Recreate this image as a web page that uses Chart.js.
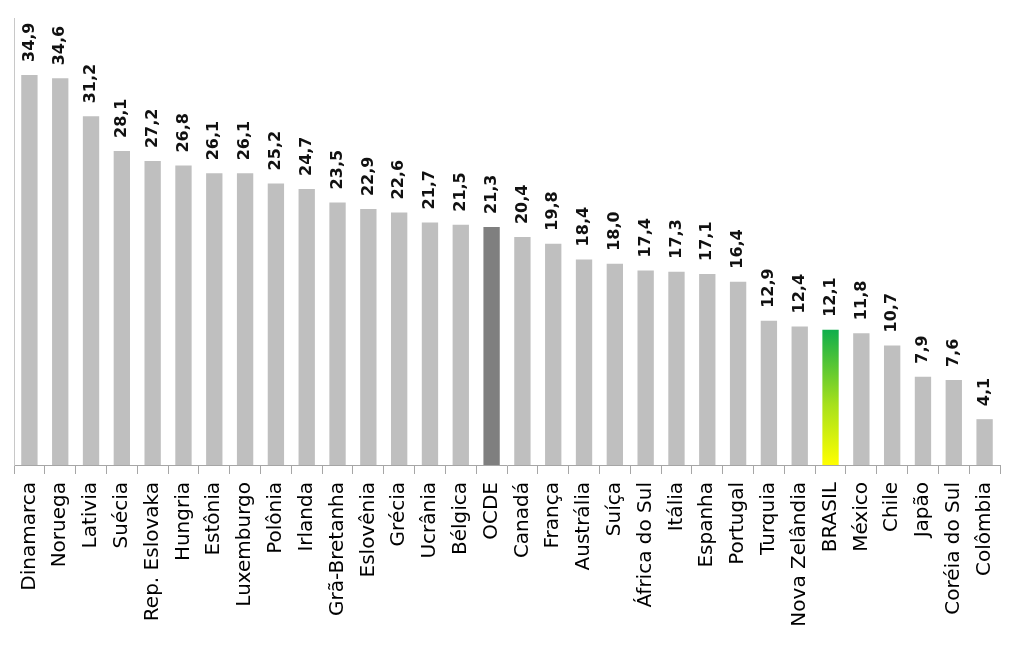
<!DOCTYPE html>
<html>
<head>
<meta charset="utf-8">
<script src="https://cdn.jsdelivr.net/npm/chart.js@4"></script>
<style>
  html, body { margin: 0; padding: 0; background: #fff; }
  #wrap { width: 1032px; height: 658px; position: relative; }
</style>
</head>
<body>
<div id="wrap"><canvas id="myBarChart"></canvas></div>
<script>
// countries, left to right
let paises = ["Dinamarca", "Noruega", "Lativia", "Suécia", "Rep. Eslovaka", "Hungria", "Estônia",
    "Luxemburgo", "Polônia", "Irlanda", "Grã-Bretanha", "Eslovênia", "Grécia", "Ucrânia", "Bélgica",
    "OCDE", "Canadá", "França", "Austrália", "Suíça", "África do Sul", "Itália", "Espanha", "Portugal",
    "Turquia", "Nova Zelândia", "BRASIL", "México", "Chile", "Japão", "Coréia do Sul", "Colômbia"];

let valores = [34.9, 34.6, 31.2, 28.1, 27.2, 26.8, 26.1, 26.1, 25.2, 24.7, 23.5, 22.9, 22.6, 21.7, 21.5,
    21.3, 20.4, 19.8, 18.4, 18.0, 17.4, 17.3, 17.1, 16.4, 12.9, 12.4, 12.1, 11.8, 10.7, 7.9, 7.6, 4.1];

let cinza = "#bfbfbf",
    cinza_ocde = "#7f7f7f";

// colour of each bar (BRASIL gets the green-yellow gradient)
function barColor(context) {
    let nome = paises[context.dataIndex];
    if (nome == "OCDE") return cinza_ocde;
    if (nome == "BRASIL") {
        let chart = context.chart;
        if (!chart.chartArea || !chart.scales.y) return "#8fd12a";
        let y = chart.scales.y;
        let g = chart.ctx.createLinearGradient(0, y.getPixelForValue(valores[context.dataIndex]), 0, y.getPixelForValue(0));
        g.addColorStop(0, "#0fae4b");
        g.addColorStop(0.55, "#a6e01c");
        g.addColorStop(1, "#ffff00");
        return g;
    }
    return cinza;
}

// vertical value labels on top of the bars
let valueLabels = {
    id: "valueLabels",
    afterDatasetsDraw(chart) {
        let ctx = chart.ctx;
        let meta = chart.getDatasetMeta(0);
        ctx.save();
        ctx.font = "bold 16px 'DejaVu Sans'";
        ctx.fillStyle = "#111";
        ctx.textAlign = "left";
        ctx.textBaseline = "middle";
        meta.data.forEach(function (bar, i) {
            ctx.save();
            ctx.translate(bar.x, bar.y - 13);
            ctx.rotate(-Math.PI / 2);
            ctx.fillText(valores[i].toFixed(1).replace(".", ","), 0, 0);
            ctx.restore();
        });
        ctx.restore();
    }
};

var ctx = document.getElementById("myBarChart");
new Chart(ctx, {
    type: "bar",
    data: {
        labels: paises,
        datasets: [{
            data: valores,
            backgroundColor: barColor,
            barPercentage: 0.53,
            categoryPercentage: 1
        }]
    },
    options: {
        responsive: true,
        maintainAspectRatio: false,
        animation: false,
        layout: { padding: { top: 18, left: 6, right: 32, bottom: 0 } },
        plugins: {
            legend: { display: false },
            tooltip: { enabled: false }
        },
        scales: {
            x: {
                offset: true,
                afterFit: function (scale) { scale.height = 193; },
                grid: {
                    display: true,
                    offset: true,
                    drawOnChartArea: false,
                    drawTicks: true,
                    tickLength: 9,
                    color: "#a6a6a6"
                },
                border: { display: true, color: "#a6a6a6", width: 1 },
                ticks: {
                    autoSkip: false,
                    maxRotation: 90,
                    minRotation: 90,
                    padding: 8,
                    color: "#000",
                    font: { family: "'DejaVu Sans'", size: 20 }
                }
            },
            y: {
                min: 0,
                max: 40,
                afterFit: function (scale) { scale.width = 8; },
                grid: { display: false },
                border: { display: true, color: "#c8c8c8", width: 1 },
                ticks: { display: false }
            }
        }
    },
    plugins: [valueLabels]
});
</script>
</body>
</html>
